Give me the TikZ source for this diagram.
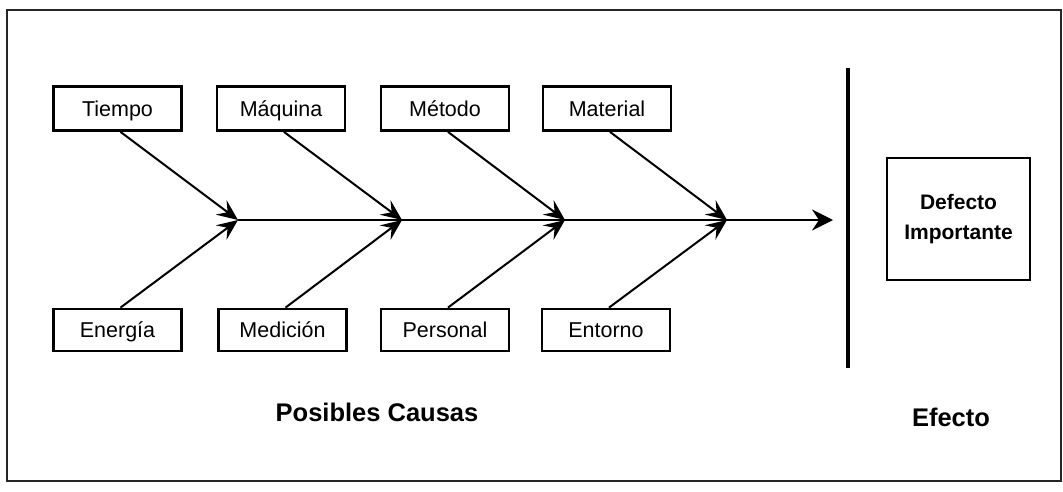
\documentclass[tikz,border=0pt]{standalone}
\usepackage{fontspec}
\setmainfont{Liberation Sans}
\usetikzlibrary{arrows.meta}
\begin{document}
\begin{tikzpicture}[x=1pt,y=-1pt,
  cause/.style={draw,line width=2.8pt,minimum width=128pt,minimum height=44pt,inner sep=0pt,
    text height=15.4pt,text depth=0pt,font=\fontsize{21.5}{26}\selectfont},
  effectbox/.style={draw,line width=2.8pt,minimum width=143pt,minimum height=122pt,inner sep=0pt,
    align=center,font=\fontsize{21}{30}\selectfont\bfseries},
  bone/.style={line width=2pt,-{Stealth[length=21pt,width=18pt,inset=8pt]}},
  spine/.style={line width=2pt,-{Stealth[length=21pt,width=21pt,inset=7pt]}},
  caption/.style={anchor=base,font=\fontsize{25.5}{30}\selectfont\bfseries}]
\useasboundingbox (0,0) rectangle (1063,491);
% outer frame
\draw[line width=1.5pt,black!85] (7,10) rectangle (1061,481);

% cause boxes
\node[cause] (t1) at (117.5,108.5) {Tiempo};
\node[cause] (t2) at (281,108.5) {Máquina};
\node[cause] (t3) at (445,108.5) {Método};
\node[cause] (t4) at (607,108.5) {Material};
\node[cause,minimum height=42pt] (b1) at (117.5,330) {Energía};
\node[cause,minimum height=42pt] (b2) at (282.5,330) {Medición};
\node[cause,minimum height=42pt] (b3) at (445,330) {Personal};
\node[cause,minimum height=42pt] (b4) at (606,330) {Entorno};

% joints on the spine
\coordinate (j1) at (238,220);
\coordinate (j2) at (402,220);
\coordinate (j3) at (565,220);
\coordinate (j4) at (727,220);
\coordinate (tip) at (833,220);

% spine
\draw[spine] (j1) -- (j4) -- (tip);

% bones
\foreach \i in {1,2,3,4}{
  \draw[bone] ([xshift=3pt]t\i.south) -- (j\i);
  \draw[bone] ([xshift=3pt]b\i.north) -- (j\i);
}

% separator bar
\coordinate (s1) at (848,68);
\coordinate (s2) at (848,368);
\draw[line width=3.8pt] (s1) -- (s2);

% effect
\node[effectbox] (eff) at (958.5,219) {Defecto\\Importante};

% captions
\node[caption] (causas) at (377,421) {Posibles Causas};
\node[caption] (efecto) at (951,426) {Efecto};
\end{tikzpicture}
\end{document}
